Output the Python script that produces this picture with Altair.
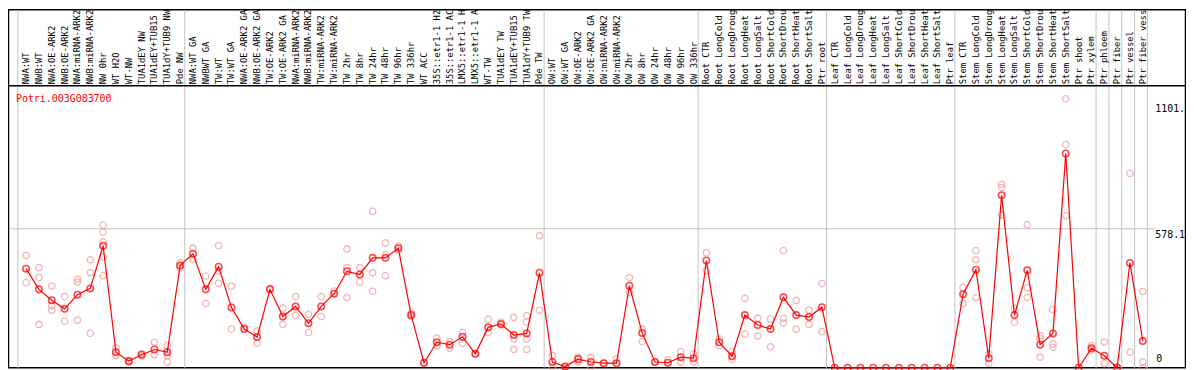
import altair as alt
import pandas as pd

gene = "Potri.003G083700"

labels = ["NWA:WT", "NWB:WT", "NWA:OE-ARK2", "NWB:OE-ARK2", "NWA:miRNA-ARK2", "NWB:miRNA-ARK2",
          "NW 0hr", "WT H2O", "WT-NW", "TUA1dEY NW", "TUA1dEY+TUB15", "TUA1dY+TUB9 NW", "Pde NW",
          "NWA:WT GA", "NWBWT GA", "TW:WT", "TW:WT GA", "NWA:OE-ARK2 GA", "NWB:OE-ARK2 GA",
          "TW:OE-ARK2", "TW:OE-ARK2 GA", "NWA:miRNA-ARK2", "NWB:miRNA-ARK2", "TW:miRNA-ARK2",
          "TW:miRNA-ARK2", "TW 2hr", "TW 8hr", "TW 24hr", "TW 48hr", "TW 96hr", "TW 336hr",
          "WT ACC", "35S::etr1-1 H2", "35S::etr1-1 AC", "LMX5::etr1-1 H", "LMX5::etr1-1 A",
          "WT-TW", "TUA1dEY TW", "TUA1dEY+TUB15", "TUA1dY+TUB9 TW", "Pde TW",
          "OW:WT", "OW:WT GA", "OW:OE-ARK2", "OW:OE-ARK2 GA", "OW:miRNA-ARK2", "OW:miRNA-ARK2",
          "OW 2hr", "OW 8hr", "OW 24hr", "OW 48hr", "OW 96hr", "OW 336hr",
          "Root CTR", "Root LongCold", "Root LongDroug", "Root LongHeat", "Root LongSalt",
          "Root ShortCold", "Root ShortDrou", "Root ShortHeat", "Root ShortSalt", "Ptr root",
          "Leaf CTR", "Leaf LongCold", "Leaf LongDroug", "Leaf LongHeat", "Leaf LongSalt",
          "Leaf ShortCold", "Leaf ShortDrou", "Leaf ShortHeat", "Leaf ShortSalt", "Ptr leaf",
          "Stem CTR", "Stem LongCold", "Stem LongDroug", "Stem LongHeat", "Stem LongSalt",
          "Stem ShortCold", "Stem ShortDrou", "Stem ShortHeat", "Stem ShortSalt", "Ptr shoot",
          "Ptr xylem", "Ptr phloem", "Ptr fiber", "Ptr vessel", "Ptr fiber vess"]

means = [412, 326, 281, 245, 304, 330, 507, 65, 28, 54, 76, 65, 425,
         474, 326, 420, 251, 161, 128, 326, 213, 255, 185, 255, 308, 401, 388, 457, 457, 497,
         219, 21, 106, 96, 129, 58, 168, 182, 136, 143, 395,
         24, 5, 36, 24, 19, 19, 341, 145, 24, 21, 44, 40,
         446, 106, 48, 219, 178, 161, 293, 219, 211, 252,
         0, 0, 0, 0, 0, 0, 0, 0, 0, 0,
         306, 408, 40, 717, 219, 405, 96, 143, 891, 0, 81, 50, 0, 436, 111]

reps = [[467, 354], [416, 375, 180], [340, 257, 239], [296, 193], [368, 356, 198],
        [449, 395, 143], [593, 564, 523, 461, 383], [83, 51], [30, 22], [58, 48], [106, 54],
        [92, 51, 24], [436, 416],
        [497, 450], [381, 267], [508, 402, 351], [340, 161], [168], [153, 102], [329],
        [248, 180], [296, 218], [222, 147], [296, 213], [319], [494, 416, 292], [416, 356],
        [650, 395, 318], [519, 471, 383], [505, 489], [227, 213], [21], [123, 92], [109, 81],
        [147, 102], [58], [202, 147], [189, 178], [209, 120, 76], [216, 191, 120, 76],
        [549, 239],
        [51, 3], [5], [44, 24], [44, 3], [19], [37], [375, 313], [161, 109], [24], [33],
        [67, 24], [58, 24],
        [478, 405], [120, 92], [67, 34], [289, 140], [206, 132], [202, 87], [487, 206, 186],
        [280, 160], [240, 180], [350, 150],
        [], [], [], [], [], [], [], [], [], [],
        [333, 267], [487, 449, 292], [58, 19], [763, 749, 636], [247, 189], [595, 333, 292],
        [133, 120, 44], [242, 99, 85], [1118, 928, 632], [], [92, 74], [107, 17], [3],
        [808, 65], [317, 24, 0]]

group_starts = [0, 13, 41, 53, 63, 73, 84, 85, 86, 87, 88]
tick_values = [1101.0, 578.1]
tick_texts = ["1101.", "578.1"]
zero_text = "0"

W, H = 1186, 362
TOP, BOT = 77, 361

mean_df = pd.DataFrame({"idx": list(range(len(means))), "val": means, "label": labels})
rep_rows = [{"idx": i, "val": v} for i, vs in enumerate(reps) for v in vs]
rep_df = pd.DataFrame(rep_rows)
grid_df = pd.DataFrame({"pos": [g - 0.64 for g in group_starts]})
tick_df = pd.DataFrame({"val": tick_values, "txt": tick_texts})
zero_df = pd.DataFrame({"val": [0.0], "txt": [zero_text]})

xs = alt.Scale(domain=[0, 87], range=[18.2, 1142.5])
ys = alt.Scale(domain=[0, 1172.7], range=[BOT, TOP])
FONT = "DejaVu Sans Mono"

frame = alt.Chart(pd.DataFrame({"a": [0]})).mark_rect(
    fill="white", stroke="black", strokeWidth=1.5
).encode(x=alt.value(0.5), x2=alt.value(W - 0.5), y=alt.value(0.5), y2=alt.value(BOT))

vgrid = alt.Chart(grid_df).mark_rule(color="#c4c4c4", strokeWidth=1).encode(
    x=alt.X("pos:Q", scale=xs, axis=None), y=alt.value(1), y2=alt.value(BOT))

hgrid = alt.Chart(tick_df).transform_filter("datum.val < 1000").mark_rule(
    color="#c4c4c4", strokeWidth=1
).encode(y=alt.Y("val:Q", scale=ys, axis=None), x=alt.value(1), x2=alt.value(1155))

header_line = alt.Chart(pd.DataFrame({"a": [0]})).mark_rule(color="black", strokeWidth=1.5).encode(
    x=alt.value(0), x2=alt.value(W), y=alt.value(TOP))

header = alt.Chart(mean_df).mark_text(
    angle=270, align="left", baseline="middle", font=FONT, fontSize=8.9, color="black"
).encode(x=alt.X("idx:Q", scale=xs, axis=None), y=alt.value(TOP - 1.5), text="label:N")

rep_pts = alt.Chart(rep_df).mark_point(
    shape="circle", filled=False, color="#f09a9a", strokeWidth=1.3, size=42
).encode(x=alt.X("idx:Q", scale=xs, axis=None), y=alt.Y("val:Q", scale=ys, axis=None))

line = alt.Chart(mean_df).mark_line(color="#ff0000", strokeWidth=1.2).encode(
    x=alt.X("idx:Q", scale=xs, axis=None), y=alt.Y("val:Q", scale=ys, axis=None))

mean_pts = alt.Chart(mean_df).mark_point(
    shape="circle", filled=False, color="#ff0000", strokeWidth=1.6, size=42
).encode(x=alt.X("idx:Q", scale=xs, axis=None), y=alt.Y("val:Q", scale=ys, axis=None))

ticks = alt.Chart(tick_df).mark_text(
    align="left", baseline="top", font=FONT, fontSize=10, color="black", dy=1
).encode(x=alt.value(1155), y=alt.Y("val:Q", scale=ys, axis=None), text="txt:N")

zero_lbl = alt.Chart(zero_df).mark_text(
    align="left", baseline="bottom", font=FONT, fontSize=10, color="black", dy=-4
).encode(x=alt.value(1156), y=alt.Y("val:Q", scale=ys, axis=None), text="txt:N")

title = alt.Chart(pd.DataFrame({"t": [gene]})).mark_text(
    align="left", baseline="top", font=FONT, fontSize=10, color="#ff0000"
).encode(x=alt.value(8), y=alt.value(TOP + 8), text="t:N")

chart = alt.layer(
    frame, vgrid, hgrid, header_line, header, title, rep_pts, line, mean_pts, ticks, zero_lbl
).properties(
    width=W, height=H, padding=0, autosize=alt.AutoSizeParams(type="none")
).configure_view(strokeWidth=0)

chart.save("out.html", embed_options={"renderer": "svg", "actions": False})
